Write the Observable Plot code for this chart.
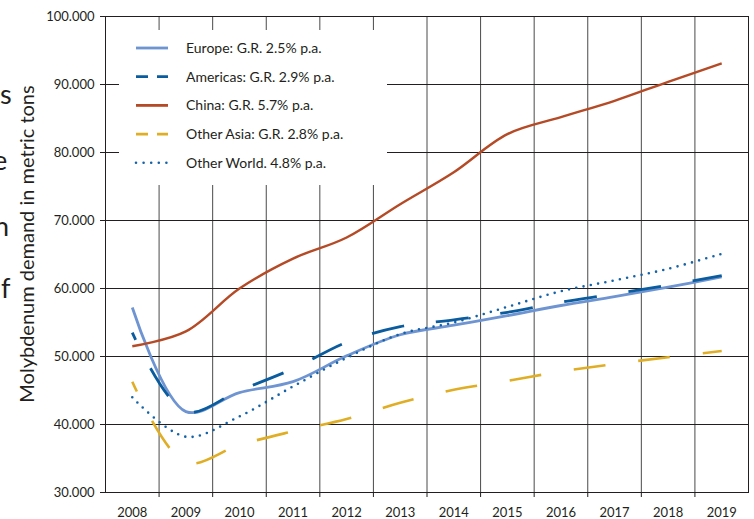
<!DOCTYPE html>
<html>
<head>
<meta charset="utf-8">
<script src="https://cdn.jsdelivr.net/npm/d3@7"></script>
<script src="https://cdn.jsdelivr.net/npm/@observablehq/plot@0.6"></script>
<style>
  html, body { margin: 0; padding: 0; background: #fff; }
  #chart { width: 754px; height: 519px; overflow: hidden; position: relative; }
</style>
</head>
<body>
<div id="chart"></div>
<script>
const years = [2008, 2009, 2010, 2011, 2012, 2013, 2014, 2015, 2016, 2017, 2018, 2019];
const europe     = [57200, 41900, 44700, 46300, 50100, 53200, 54600, 56000, 57500, 58800, 60200, 61700];
const americas   = [53500, 41900, 45000, 48200, 52100, 54400, 55400, 56500, 58000, 59200, 60500, 61900];
const china      = [51500, 53700, 60000, 64400, 67500, 72400, 77100, 82700, 85200, 87600, 90400, 93100];
const otherAsia  = [46300, 34400, 37000, 39000, 40800, 43200, 45100, 46400, 47800, 48900, 49900, 50800];
const otherWorld = [44000, 38200, 41200, 45600, 49800, 53300, 55000, 57300, 59600, 61200, 62900, 65100];
const yTicks = [30000, 40000, 50000, 60000, 70000, 80000, 90000, 100000];
const seriesNames = ["Europe: G.R. 2.5% p.a.", "Americas: G.R. 2.9% p.a.", "China: G.R. 5.7% p.a.", "Other Asia: G.R. 2.8% p.a.", "Other World. 4.8% p.a."];
const yTitle = "Molybdenum demand in metric tons";
const edgeLetters = ["s", "e", "h", "f"];

const colors = ["#6f94d2", "#0a5c9e", "#b54a26", "#e0ae25", "#1462a8"];
const widths = [2.8, 2.8, 2.4, 2.6, 2.6];
const dashes = [null, "33,32", null, "32,33", "0,7.4"];
const offsets = [0, 25, 0, 21, 0];
const legendDashes = [null, "12,9", null, "12,9", "0,7.6"];
const allSeries = [europe, americas, china, otherAsia, otherWorld];

const rows = (vals) => years.map((yr, i) => ({year: yr, value: vals[i]}));
const bounds = years.slice(1).map(y => y - 0.5);
const fmt = d => d3.format(",")(d).replace(/,/g, ".");

const lineMarks = allSeries.map((s, i) => Plot.line(rows(s), {
  x: "year", y: "value", curve: "catmull-rom",
  stroke: colors[i], strokeWidth: widths[i],
  strokeDasharray: dashes[i] || undefined,
  strokeDashoffset: offsets[i],
  strokeLinecap: i === 4 ? "round" : "butt"
}));

const plot = Plot.plot({
  width: 754, height: 519,
  marginLeft: 105, marginRight: 6, marginTop: 16, marginBottom: 27,
  style: {fontFamily: "Lato, sans-serif", fontSize: "13px", color: "#231f20", background: "#fff"},
  x: {domain: [years[0] - 0.5, years[years.length - 1] + 0.5], axis: null},
  y: {domain: [30000, 100000], axis: null},
  marks: [
    Plot.ruleX(bounds, {stroke: "#4a4a4a", strokeWidth: 1}),
    Plot.ruleY(yTicks.slice(1, -1), {stroke: "#231f20", strokeWidth: 1}),
    Plot.frame({stroke: "#231f20", strokeWidth: 1}),
    Plot.axisY(yTicks, {tickSize: 5, tickPadding: 6, tickFormat: fmt, stroke: "#231f20", fontSize: 13, label: null}),
    Plot.axisX(bounds, {tickSize: 5, tickFormat: () => "", stroke: "#231f20", label: null}),
    Plot.axisX(years, {tickSize: 0, tickPadding: 15, tickFormat: d => String(d), fontSize: 13, label: null}),
    ...lineMarks
  ]
});
document.getElementById("chart").appendChild(plot);

const svg = d3.select(plot);
// legend
const lg = svg.append("g").attr("text-anchor", "start");
lg.append("rect").attr("x", 119).attr("y", 30).attr("width", 268).attr("height", 155).attr("fill", "#fff");
seriesNames.forEach((name, i) => {
  const y = 48 + i * 28.7;
  lg.append("line").attr("x1", 136).attr("x2", 168).attr("y1", y).attr("y2", y)
    .attr("stroke", colors[i]).attr("stroke-width", i === 4 ? 2.6 : 2.8)
    .attr("stroke-dasharray", legendDashes[i])
    .attr("stroke-linecap", i === 4 ? "round" : "butt");
  lg.append("text").attr("x", 186).attr("y", y).attr("dy", "0.35em").attr("text-anchor", "start")
    .attr("font-size", 14).attr("fill", "#231f20").attr("font-family", "Lato, sans-serif").text(name);
});
// y title
svg.append("text").attr("transform", "translate(27,244) rotate(-90)")
  .attr("text-anchor", "middle").attr("dy", "0.35em")
  .attr("font-size", 20).attr("fill", "#231f20").attr("font-family", "Lato, sans-serif").text(yTitle);
// cropped fragments of neighbouring text at the left edge
const ey = [95, 161, 227, 289];
const ex = [0, -7, -6, 1];
edgeLetters.forEach((ch, i) => {
  svg.append("text").attr("x", ex[i]).attr("y", ey[i]).attr("dy", "0.35em").attr("text-anchor", "start")
    .attr("font-size", 27).attr("fill", "#231f20").attr("font-family", "Lato, sans-serif").text(ch);
});
</script>
</body>
</html>
